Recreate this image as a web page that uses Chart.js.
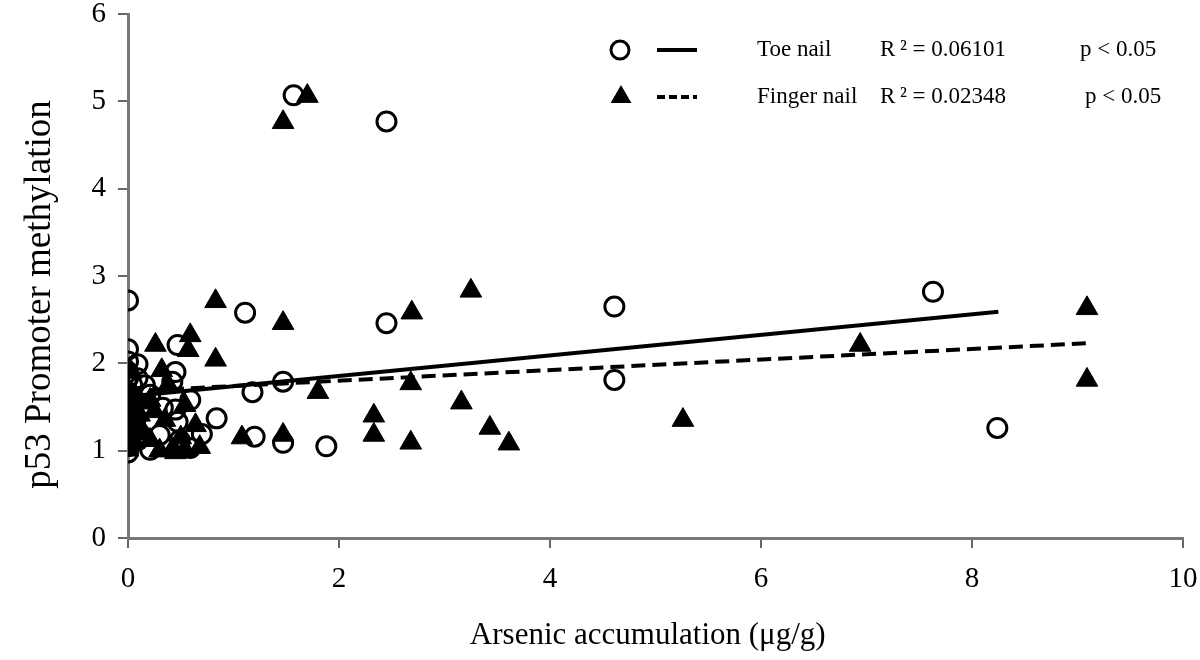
<!DOCTYPE html>
<html><head><meta charset="utf-8">
<script src="https://cdn.jsdelivr.net/npm/chart.js@4.4.1/dist/chart.umd.min.js"></script>
<style>html,body{margin:0;padding:0;background:#fff}#wrap{width:1200px;height:660px}</style>
</head><body><div id="wrap"><canvas id="c" width="1200" height="660"></canvas></div>
<script>
// Toe nail (open circles)
const toeX = [0,0,0,0.09,0,0,0,0,0,0,0,0.09,0.09,0.16,0.33,0.21,0.45,0.47,0.42,0.47,0.30,0.14,0.59,0.70,0.84,0.07,0.45,0.21,0.59,0.49,
  0,0,0,0,0.03,0.05,0.04,
  1.18,1.47,1.20,1.47,1.88,1.11,2.45,1.57,2.45,4.61,4.61,7.63,8.24];
const toeY = [2.72,2.16,2.02,1.99,1.83,1.67,1.52,1.37,1.24,1.12,0.98,1.12,1.83,1.75,1.49,1.64,1.90,2.21,1.79,1.33,1.18,1.16,1.58,1.19,1.37,1.35,1.47,1.01,1.03,1.12,
  1.90,1.45,1.30,1.05,1.60,1.20,1.75,
  1.67,1.79,1.16,1.09,1.05,2.58,2.46,5.07,4.77,2.65,1.81,2.82,1.26];
// Finger nail (filled triangles)
const fingerX = [0.26,0.59,0.57,0.83,0.83,0.32,0.38,0.21,0.54,0.11,0.35,0.64,0.02,0.21,0.42,0.54,0.68,0.02,0,
  0.03,0.05,0.02,0.06,0.10,0.12,0.15,0.25,0.30,0.45,0.50,
  1.08,1.47,1.47,1.70,1.47,1.80,2.33,2.33,2.68,2.68,2.69,3.25,3.16,3.43,3.61,5.26,6.94,9.09,9.09];
const fingerY = [2.21,2.32,2.15,2.71,2.04,1.92,1.75,1.58,1.52,1.41,1.35,1.29,1.24,1.12,1.01,1.01,1.04,1.64,1.01,
  1.90,1.50,1.35,1.10,1.30,1.55,1.20,1.45,1.00,0.98,1.15,
  1.15,1.18,4.76,5.06,2.46,1.67,1.40,1.18,1.09,1.77,2.58,2.83,1.55,1.26,1.08,1.35,2.21,2.63,1.81];
// Linear fits
const toeFitX = [0, 8.25];
const toeFitY = [1.62, 2.59];
const fingerFitX = [0, 9.09];
const fingerFitY = [1.68, 2.23];
// Axis ticks
const xTicks = [0, 2, 4, 6, 8, 10];
const yTicks = [0, 1, 2, 3, 4, 5, 6];
// Legend text
const seriesNames = ['Toe nail', 'Finger nail'];
const r2Labels = ['R\u2009\u00b2 = 0.06101', 'R\u2009\u00b2 = 0.02348'];
const pLabels = ['p < 0.05', 'p < 0.05'];

const zip = (xs, ys) => xs.map((x, i) => ({x, y: ys[i]}));
const SERIF = '"Liberation Serif", "DejaVu Serif", serif';

const legendPlugin = {
  id: 'customLegend',
  afterDraw(chart) {
    const ctx = chart.ctx;
    ctx.save();
    const rows = [50, 97];
    ctx.strokeStyle = '#000';
    ctx.fillStyle = '#000';
    ctx.lineWidth = 3;
    ctx.beginPath(); ctx.arc(620, rows[0], 9, 0, Math.PI * 2); ctx.stroke();
    ctx.lineWidth = 4;
    ctx.beginPath(); ctx.moveTo(657, rows[0]); ctx.lineTo(697, rows[0]); ctx.stroke();
    const r = 12;
    ctx.beginPath();
    ctx.moveTo(621, rows[1] - r);
    ctx.lineTo(621 + r * Math.sin(2 * Math.PI / 3), rows[1] + r / 2);
    ctx.lineTo(621 - r * Math.sin(2 * Math.PI / 3), rows[1] + r / 2);
    ctx.closePath(); ctx.fill();
    ctx.setLineDash([8, 4]);
    ctx.beginPath(); ctx.moveTo(657, rows[1]); ctx.lineTo(697, rows[1]); ctx.stroke();
    ctx.setLineDash([]);
    ctx.font = '23px ' + SERIF;
    ctx.textBaseline = 'middle';
    ctx.textAlign = 'left';
    for (let i = 0; i < 2; i++) {
      ctx.fillText(seriesNames[i], 757, rows[i]);
      ctx.fillText(r2Labels[i], 880, rows[i]);
      ctx.fillText(pLabels[i], i === 0 ? 1080 : 1085, rows[i]);
    }
    ctx.restore();
  }
};

new Chart(document.getElementById('c'), {
  type: 'scatter',
  data: {
    datasets: [
      { type: 'line', label: 'Toe nail fit', data: zip(toeFitX, toeFitY), borderColor: '#000', borderWidth: 4,
        pointRadius: 0, fill: false, order: 0 },
      { type: 'line', label: 'Finger nail fit', data: zip(fingerFitX, fingerFitY), borderColor: '#000', borderWidth: 4,
        borderDash: [14, 7], pointRadius: 0, fill: false, order: 0 },
      { label: 'Finger nail', data: zip(fingerX, fingerY), pointStyle: 'triangle', pointRadius: 12.5,
        backgroundColor: '#000', borderColor: '#000', borderWidth: 1, order: 1 },
      { label: 'Toe nail', data: zip(toeX, toeY), pointStyle: 'circle', pointRadius: 9.5,
        backgroundColor: 'rgba(255,255,255,0)', borderColor: '#000', borderWidth: 3, order: 2 }
    ]
  },
  options: {
    responsive: false,
    devicePixelRatio: 1,
    animation: false,
    layout: { padding: { top: 14, right: 17, left: 0, bottom: 0 } },
    plugins: { legend: { display: false }, tooltip: { enabled: false } },
    scales: {
      x: {
        type: 'linear', min: 0, max: 10,
        afterBuildTicks: s => { s.ticks = xTicks.map(v => ({value: v})); },
        afterFit: s => { s.height = 122; s.paddingLeft = 0; s.paddingRight = 0; },
        ticks: { color: '#000', font: { family: SERIF, size: 29 }, padding: 14, maxRotation: 0 },
        grid: { drawOnChartArea: false, drawTicks: true, tickLength: 10, color: '#666', lineWidth: 2 },
        border: { display: true, color: '#777', width: 3 },
        title: { display: true, text: 'Arsenic accumulation (\u03bcg/g)  ', color: '#000',
          font: { family: SERIF, size: 31 }, padding: { top: 0, bottom: 6 } }
      },
      y: {
        type: 'linear', min: 0, max: 6,
        afterBuildTicks: s => { s.ticks = yTicks.map(v => ({value: v})); },
        afterFit: s => { s.width = 128; s.paddingTop = 0; s.paddingBottom = 0; },
        ticks: { color: '#000', font: { family: SERIF, size: 29 }, padding: 12 },
        grid: { drawOnChartArea: false, drawTicks: true, tickLength: 10, color: '#666', lineWidth: 2 },
        border: { display: true, color: '#777', width: 3 },
        title: { display: true, text: 'p53 Promoter methylation    ', color: '#000',
          font: { family: SERIF, size: 37 }, padding: { top: 18, bottom: 0 } }
      }
    }
  },
  plugins: [legendPlugin]
});
</script></body></html>
